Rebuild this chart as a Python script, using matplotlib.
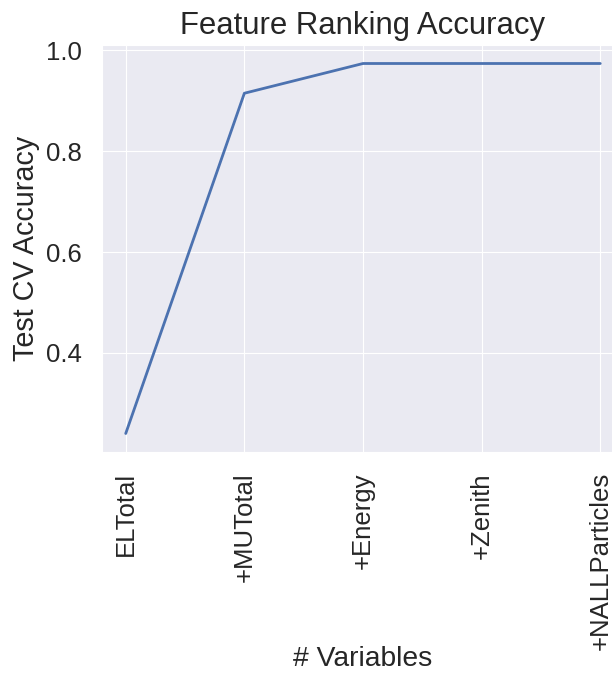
import matplotlib
matplotlib.use("Agg")
import seaborn as sns
from matplotlib import pyplot as plt

variables = ["ELTotal", "+MUTotal", "+Energy", "+Zenith", "+NALLParticles"]
accuracy = [0.24, 0.915, 0.974, 0.974, 0.974]

sns.set_style("darkgrid")
plt.rcParams['font.family'] = ['Liberation Sans', 'DejaVu Sans']

fig = plt.figure(figsize=(6.12, 6.77), dpi=100)
# axes run a bit past the right edge, like the cropped original
ax = fig.add_axes([102 / 612, 1 - 452 / 677, 522 / 612, (452 - 45) / 677])
ax.plot(range(len(variables)), accuracy, color="#4C72B0", linewidth=2)
ax.set_xticks(range(len(variables)))
ax.set_xticklabels(variables, rotation=90)
ax.set_yticks([0.4, 0.6, 0.8, 1.0])
ax.tick_params(labelsize=18.5, colors="#262626", pad=11)
ax.set_xlabel("# Variables", fontsize=20.3, color="#262626")
ax.xaxis.set_label_coords(0.5, -0.477)
ax.set_ylabel("Test CV Accuracy", fontsize=20.7, color="#262626", labelpad=4)
ax.set_title("Feature Ranking Accuracy", fontsize=22.4, color="#262626", pad=8)
fig.savefig("out.png", dpi=100)
